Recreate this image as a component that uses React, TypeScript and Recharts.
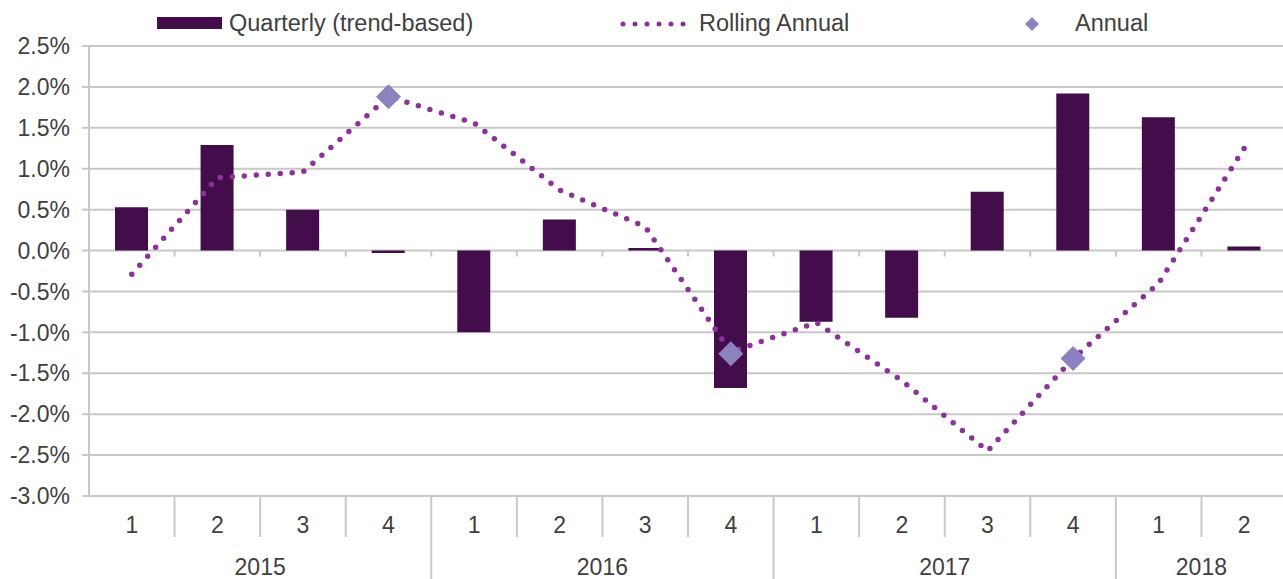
import React from "react";
import {
  ComposedChart,
  Bar,
  Line,
  XAxis,
  YAxis,
  CartesianGrid,
  Legend,
} from "recharts";

// data
const quarters = ["1", "2", "3", "4", "1", "2", "3", "4", "1", "2", "3", "4", "1", "2"];
const years = ["2015", "2015", "2015", "2015", "2016", "2016", "2016", "2016", "2017", "2017", "2017", "2017", "2018", "2018"];
const quarterly = [0.53, 1.29, 0.5, -0.03, -1.0, 0.38, 0.03, -1.68, -0.87, -0.82, 0.72, 1.92, 1.63, 0.05];
const rollingAnnual = [-0.29, 0.89, 0.96, 1.88, 1.56, 0.74, 0.29, -1.24, -0.88, -1.59, -2.45, -1.32, -0.4, 1.25];
const annual = [null, null, null, 1.88, null, null, null, -1.26, null, null, null, -1.32, null, null];
const yTicks = [-3, -2.5, -2, -1.5, -1, -0.5, 0, 0.5, 1, 1.5, 2, 2.5];

const data = quarters.map((q, i) => ({
  q: q,
  year: years[i],
  quarterly: quarterly[i],
  rolling: rollingAnnual[i],
  annual: annual[i],
}));

const CHART_W = 1287;
const CHART_H = 579;
const Y_W = 89;
const TOP = 46;
const BOTTOM = 496;
const CAT_W = (CHART_W - Y_W) / data.length;
const Y_MIN = -3;
const Y_MAX = 2.5;
const ZERO_Y = TOP + ((Y_MAX - 0) / (Y_MAX - Y_MIN)) * (BOTTOM - TOP);

const GRID = "#C8C8C8";
const TEXT = "#404040";
const BAR = "#420D4A";
const LINE = "#8A3499";
const DIAMOND = "#8B82BF";
const FONT = "'Liberation Sans', Arial, sans-serif";
const FS = 23;

function QuarterTick(props: any) {
  const { x, index, payload } = props;
  const left = x - CAT_W / 2;
  const yearStart = index === 0 || years[index] !== years[index - 1];
  return (
    <g>
      {index > 0 && (
        <line x1={left} x2={left} y1={BOTTOM} y2={yearStart ? CHART_H : BOTTOM + 41} stroke={GRID} strokeWidth={2} />
      )}
      {index > 0 && (
        <line x1={left} x2={left} y1={ZERO_Y} y2={ZERO_Y + 6} stroke={GRID} strokeWidth={2} />
      )}
      <text x={x} y={533} textAnchor="middle" fill={TEXT} fontSize={FS} fontFamily={FONT}>
        {payload.value}
      </text>
    </g>
  );
}

function YearTick(props: any) {
  const { x, index } = props;
  const yr = years[index];
  if (index > 0 && years[index - 1] === yr) return <g />;
  const n = years.filter((y) => y === yr).length;
  return (
    <text x={x + ((n - 1) * CAT_W) / 2} y={575} textAnchor="middle" fill={TEXT} fontSize={FS} fontFamily={FONT}>
      {yr}
    </text>
  );
}

function Diamond(props: any) {
  const { cx, cy, value, index } = props;
  if (value == null || cx == null || cy == null) return <g key={index} />;
  const r = 12.5;
  return (
    <path
      key={index}
      d={`M${cx},${cy - r} L${cx + r},${cy} L${cx},${cy + r} L${cx - r},${cy} Z`}
      fill={DIAMOND}
    />
  );
}

function LegendBox() {
  const txt: React.CSSProperties = {
    position: "absolute",
    top: 8,
    fontSize: 23.5,
    lineHeight: "30px",
    color: TEXT,
    fontFamily: FONT,
    whiteSpace: "nowrap",
  };
  return (
    <div style={{ position: "relative", width: 1283, height: 46 }}>
      <div style={{ position: "absolute", left: 157, top: 17, width: 65, height: 12, background: BAR }} />
      <div style={{ ...txt, left: 229 }}>Quarterly (trend-based)</div>
      <svg style={{ position: "absolute", left: 618, top: 17 }} width={72} height={14}>
        <line x1={5} x2={66} y1={7} y2={7} stroke={LINE} strokeWidth={5} strokeDasharray="0 12" strokeLinecap="round" />
      </svg>
      <div style={{ ...txt, left: 699 }}>Rolling Annual</div>
      <svg style={{ position: "absolute", left: 1024, top: 16 }} width={16} height={16}>
        <path d="M8,1 L15,8 L8,15 L1,8 Z" fill={DIAMOND} />
      </svg>
      <div style={{ ...txt, left: 1075 }}>Annual</div>
    </div>
  );
}

export default function App() {
  return (
    <div style={{ position: "absolute", left: 0, top: 0, width: 1283, height: CHART_H, overflow: "hidden", background: "#fff" }}>
      <ComposedChart
        width={CHART_W}
        height={CHART_H}
        data={data}
        margin={{ top: TOP, right: 0, bottom: 0, left: 0 }}
        barCategoryGap={0}
      >
        <CartesianGrid horizontal={true} vertical={false} stroke={GRID} strokeWidth={2} />
        <XAxis
          dataKey="q"
          height={41}
          axisLine={false}
          tickLine={false}
          interval={0}
          tick={<QuarterTick />}
        />
        <XAxis
          xAxisId="year"
          dataKey="q"
          height={42}
          axisLine={false}
          tickLine={false}
          interval={0}
          tick={<YearTick />}
        />
        <YAxis
          width={Y_W}
          domain={[Y_MIN, Y_MAX]}
          ticks={yTicks}
          interval={0}
          tickFormatter={(v: number) => v.toFixed(1) + "%"}
          tick={{ fill: TEXT, fontSize: FS, fontFamily: FONT }}
          tickSize={7}
          tickMargin={12}
          axisLine={{ stroke: GRID, strokeWidth: 2 }}
          tickLine={{ stroke: GRID, strokeWidth: 2 }}
        />
        <Legend verticalAlign="middle" wrapperStyle={{ top: 0, left: 0, width: 1283, height: 46 }} content={() => <LegendBox />} />
        <Bar dataKey="quarterly" fill={BAR} barSize={33} isAnimationActive={false} />
        <Line
          dataKey="rolling"
          type="linear"
          stroke={LINE}
          strokeWidth={5.5}
          strokeDasharray="0 12"
          strokeLinecap="round"
          dot={false}
          activeDot={false}
          isAnimationActive={false}
        />
        <Line
          dataKey="annual"
          stroke="none"
          dot={(p: any) => <Diamond {...p} />}
          activeDot={false}
          isAnimationActive={false}
        />
      </ComposedChart>
    </div>
  );
}
